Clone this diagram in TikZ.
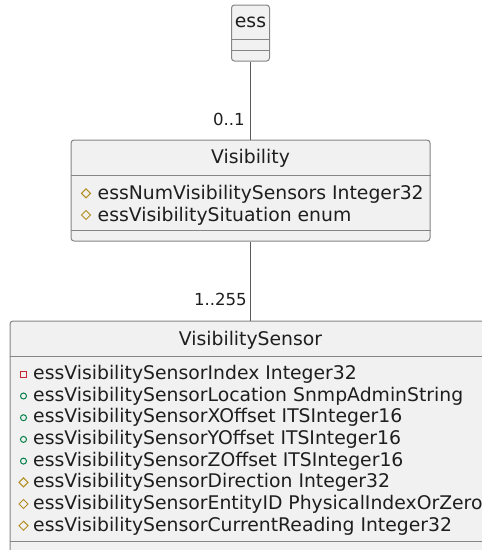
\documentclass[tikz,border=0pt]{standalone}
\usepackage{fontspec}
\setmainfont{DejaVu Sans}
\definecolor{boxfill}{HTML}{F1F1F1}
\definecolor{boxline}{HTML}{858585}
\definecolor{linkline}{HTML}{5A5A5A}
\definecolor{inkcol}{HTML}{1E1E1E}
\definecolor{protcol}{HTML}{B38D22}
\definecolor{privcol}{HTML}{C82930}
\definecolor{pubcol}{HTML}{038048}
\tikzset{
  umlbox/.style={draw=boxline, fill=boxfill, line width=1pt, rounded corners=3pt, inner sep=0pt},
  sepline/.style={draw=boxline, line width=1pt},
  classname/.style={font=\fontsize{18.8}{21.7}\selectfont, text=inkcol, anchor=base, inner sep=0pt},
  attr/.style={font=\fontsize{18.8}{21.7}\selectfont, text=inkcol, anchor=base west, inner sep=0pt},
  mult/.style={font=\fontsize{16.6}{19}\selectfont, text=inkcol, anchor=base east, inner sep=0pt},
  link/.style={draw=linkline, line width=1.3pt},
  protmark/.style={draw=protcol, line width=1pt},
  privmark/.style={draw=privcol, line width=1pt},
  pubmark/.style={draw=pubcol, line width=1pt}
}
% visibility markers: #1 = x, #2 = y of the marker centre
\newcommand\protectedmark[2]{\draw[protmark] (#1-4.5,#2) -- (#1,#2-4.5) -- (#1+4.5,#2) -- (#1,#2+4.5) -- cycle;}
\newcommand\privatemark[2]{\draw[privmark] (#1-3,#2-3) rectangle (#1+3,#2+3);}
\newcommand\publicmark[2]{\draw[pubmark] (#1,#2) circle[radius=3pt];}
\begin{document}
\begin{tikzpicture}[x=1pt,y=-1pt]
\useasboundingbox (0,0) rectangle (482,550);

% class boxes
\node[umlbox, minimum width=38pt, minimum height=56pt] (ess) at (250.5,33) {};
\node[umlbox, minimum width=359pt, minimum height=101pt] (vis) at (250.5,190.5) {};
\node[umlbox, minimum width=481pt, minimum height=239pt] (sensor) at (250.5,440.5) {};

% compartment separators
\draw[sepline] (ess.west |- 0,39) -- (ess.east |- 0,39);
\draw[sepline] (ess.west |- 0,50) -- (ess.east |- 0,50);
\draw[sepline] (vis.west |- 0,175.5) -- (vis.east |- 0,175.5);
\draw[sepline] (vis.west |- 0,230) -- (vis.east |- 0,230);
\draw[sepline] (sensor.west |- 0,356) -- (sensor.east |- 0,356);
\draw[sepline] (sensor.west |- 0,541) -- (sensor.east |- 0,541);

% class names
\node[classname] (essname) at (250.5,27) {ess};
\node[classname] (visname) at (250.5,163.5) {Visibility};
\node[classname] (sensorname) at (250.5,345) {VisibilitySensor};

% Visibility attributes
\protectedmark{86}{193.3}
\node[attr] (va1) at (97.5,199.3) {essNumVisibilitySensors Integer32};
\protectedmark{86}{215}
\node[attr] (va2) at (97.5,221) {essVisibilitySituation enum};

% VisibilitySensor attributes
\privatemark{23.5}{374.3}
\node[attr] (sa1) at (33,379.3) {essVisibilitySensorIndex Integer32};
\publicmark{23.5}{396}
\node[attr] (sa2) at (33,401) {essVisibilitySensorLocation SnmpAdminString};
\publicmark{23.5}{417.7}
\node[attr] (sa3) at (33,422.7) {essVisibilitySensorXOffset ITSInteger16};
\publicmark{23.5}{439.4}
\node[attr] (sa4) at (33,444.4) {essVisibilitySensorYOffset ITSInteger16};
\publicmark{23.5}{461.1}
\node[attr] (sa5) at (33,466.1) {essVisibilitySensorZOffset ITSInteger16};
\protectedmark{23.5}{482.3}
\node[attr] (sa6) at (33,487.8) {essVisibilitySensorDirection Integer32};
\protectedmark{23.5}{504}
\node[attr] (sa7) at (33,509.5) {essVisibilitySensorEntityID PhysicalIndexOrZero};
\protectedmark{23.5}{525.7}
\node[attr] (sa8) at (33,531.2) {essVisibilitySensorCurrentReading Integer32};

% associations
\draw[link] (ess.south) -- (vis.north);
\draw[link] (vis.south) -- (sensor.north);
\node[mult] (m1) at (245,125.7) {0..1};
\node[mult] (m2) at (247,305) {1..255};
\end{tikzpicture}
\end{document}
